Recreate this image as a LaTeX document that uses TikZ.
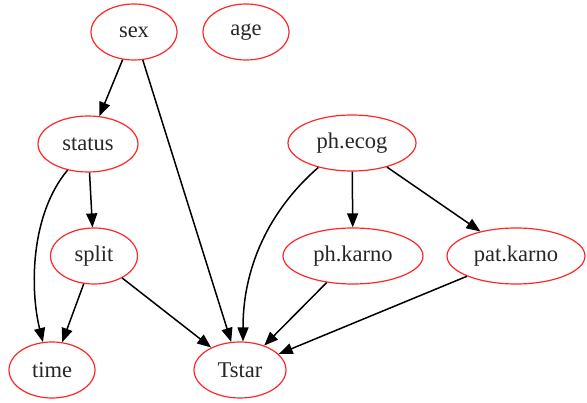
\documentclass[tikz,border=0pt]{standalone}
\usepackage{fontspec}
\setmainfont{Liberation Serif}
\usetikzlibrary{arrows.meta, shapes.geometric}

\begin{document}
\begin{tikzpicture}[
  x=1pt, y=1pt, >={Triangle[length=14pt, width=11pt]}, line width=1.5pt,
  var/.style={ellipse, draw=red!85, line width=1.2pt, minimum height=56pt, inner sep=0pt,
    text=black!85, font=\fontsize{22.5}{25}\selectfont}
]
  \useasboundingbox (0,0) rectangle (587,-403);

  % Variables, un niveau par ligne comme dans le graphe d'origine.
  \node[var, minimum width=86pt] (sex) at (134,-32) {sex};
  \node[var, minimum width=86pt] (age) at (246,-32) {age};
  \node[var, minimum width=100pt] (status) at (88,-144) {status};
  \node[var, minimum width=128pt] (ecog) at (352,-143) {ph.ecog};
  \node[var, minimum width=87pt] (split) at (94,-256) {split};
  \node[var, minimum width=140pt] (phkarno) at (353,-256) {ph.karno};
  \node[var, minimum width=138pt] (patkarno) at (516,-256) {pat.karno};
  \node[var, minimum width=86pt] (time) at (52,-370) {time};
  \node[var, minimum width=92pt] (Tstar) at (240,-370) {Tstar};

  \draw[->] (sex) -- (status);
  \draw[->] (sex) -- (Tstar);

  \draw[->] (status) -- (split);
  \draw[->] (status.232) .. controls (30,-215) and (30,-290) .. (time.108);

  \draw[->] (split) -- (time);
  \draw[->] (split) -- (Tstar);

  \draw[->] (ecog) -- (phkarno);
  \draw[->] (ecog) -- (patkarno);
  \draw[->] (ecog.216) .. controls (275,-205) and (243,-260) .. (Tstar.84);

  \draw[->] (phkarno) -- (Tstar);
  \draw[->] (patkarno) -- (Tstar);
\end{tikzpicture}
\end{document}
